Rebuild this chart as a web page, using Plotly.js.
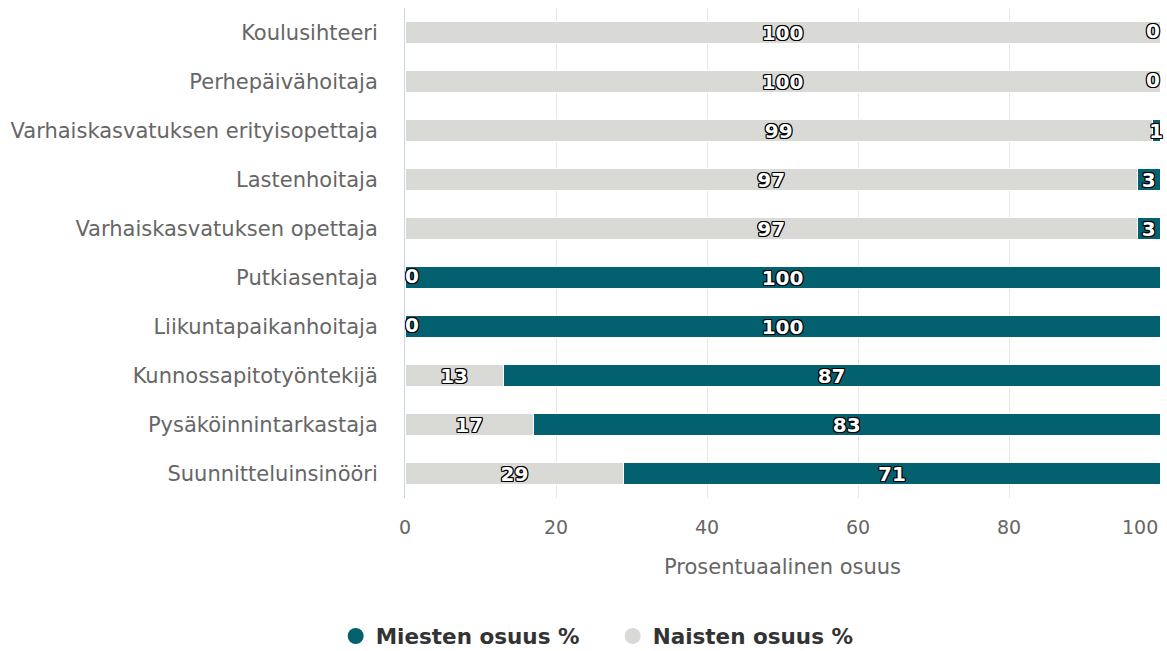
<!DOCTYPE html>
<html>
<head>
<meta charset="utf-8">
<script src="https://cdn.plot.ly/plotly-3.0.1.min.js"></script>
<style>html,body{margin:0;padding:0;background:#fff;}#chart{width:1167px;height:651px;}</style>
</head>
<body>
<div id="chart"></div>
<script>
const categories = ["Koulusihteeri","Perhepäivähoitaja","Varhaiskasvatuksen erityisopettaja","Lastenhoitaja","Varhaiskasvatuksen opettaja","Putkiasentaja","Liikuntapaikanhoitaja","Kunnossapitotyöntekijä","Pysäköinnintarkastaja","Suunnitteluinsinööri"];
const naisten = [100,100,99,97,97,0,0,13,17,29];
const miesten = [0,0,1,3,3,100,100,87,83,71];
const seriesNames = ["Miesten osuus %","Naisten osuus %"];
const colors = {miehet:"#02606f", naiset:"#d9d9d5"};
const xTicks = [0,20,40,60,80,100];
const xTitle = "Prosentuaalinen osuus";

const outline = "-1px -1px 0 #000, 1px -1px 0 #000, -1px 1px 0 #000, 1px 1px 0 #000, 0 1px 0 #000, 0 -1px 0 #000, 1px 0 0 #000, -1px 0 0 #000";
const FONT = "DejaVu Sans, sans-serif";
const labelFont = {family:FONT, size:20, color:"#ffffff", weight:700, shadow:outline};

// zero-value labels (bars of zero width cannot carry text)
const zeroWomenIdx = naisten.map((v,i)=>v===0?i:-1).filter(i=>i>=0);
const zeroMenIdx = miesten.map((v,i)=>v===0?i:-1).filter(i=>i>=0);

const traces = [
  {type:"bar", orientation:"h", name:seriesNames[1], y:categories, x:naisten,
   marker:{color:colors.naiset, line:{color:"#ffffff", width:1}},
   text:naisten.map(String), textposition:"inside", insidetextanchor:"middle", textangle:0,
   textfont:labelFont, constraintext:"none", showlegend:false, hoverinfo:"x+y", cliponaxis:false, width:0.46},
  {type:"bar", orientation:"h", name:seriesNames[0], y:categories, x:miesten,
   marker:{color:colors.miehet, line:{color:"#ffffff", width:1}},
   text:miesten.map(String), textposition:"inside", insidetextanchor:"middle", textangle:0,
   textfont:labelFont, constraintext:"none", showlegend:false, hoverinfo:"x+y", cliponaxis:false, width:0.46},
  {type:"scatter", mode:"text", showlegend:false, hoverinfo:"skip", cliponaxis:false,
   y:zeroWomenIdx.map(i=>categories[i]), x:zeroWomenIdx.map(i=>0),
   text:zeroWomenIdx.map(i=>String(naisten[i])), textposition:"middle right", textfont:labelFont},
  {type:"scatter", mode:"text", showlegend:false, hoverinfo:"skip", cliponaxis:false,
   y:zeroMenIdx.map(i=>categories[i]), x:zeroMenIdx.map(i=>naisten[i]+miesten[i]),
   text:zeroMenIdx.map(i=>String(miesten[i])), textposition:"middle left", textfont:labelFont},
  {type:"scatter", mode:"markers", name:seriesNames[0], x:[null], y:[null],
   marker:{color:colors.miehet, size:20, symbol:"circle"}},
  {type:"scatter", mode:"markers", name:seriesNames[1], x:[null], y:[null],
   marker:{color:colors.naiset, size:20, symbol:"circle"}}
];

const layout = {
  width:1167, height:651,
  margin:{l:405, r:7, t:8, b:153, autoexpand:false},
  barmode:"stack",
  bargap:0.54,
  paper_bgcolor:"#ffffff", plot_bgcolor:"#ffffff",
  font:{family:FONT, color:"#666666"},
  uniformtext:{mode:"show", minsize:10},
  xaxis:{range:[0,100], tickvals:xTicks, ticktext:xTicks.map((v,i)=>i===xTicks.length-1?"":String(v)),
    showgrid:true, gridcolor:"#e6e6e6", gridwidth:1, automargin:false,
    zeroline:false, showline:false, ticks:"", ticklabelstandoff:16,
    tickfont:{size:19, color:"#666666"},
    title:{text:xTitle, font:{size:21, color:"#666666"}, standoff:22}, fixedrange:true},
  yaxis:{autorange:"reversed", showline:true, linecolor:"#ccd6eb", linewidth:1, ticks:"", automargin:false,
    ticklabelstandoff:22, tickfont:{size:21, color:"#666666"}, showgrid:false, fixedrange:true},
  annotations:[{xref:"x", yref:"paper", x:xTicks[xTicks.length-1], y:-0.059, xanchor:"right", yanchor:"middle",
    text:String(xTicks[xTicks.length-1]), showarrow:false, font:{family:FONT, size:19, color:"#666666"}}],
  showlegend:true,
  legend:{orientation:"h", x:0.525, xanchor:"center", xref:"container", y:0.023, yref:"container", yanchor:"middle",
    traceorder:"normal", font:{size:21.5, color:"#333333", weight:700}, itemsizing:"trace", itemwidth:30,
    entrywidth:232}
};

Plotly.newPlot("chart", traces, layout, {displayModeBar:false, staticPlot:true});
</script>
</body>
</html>
